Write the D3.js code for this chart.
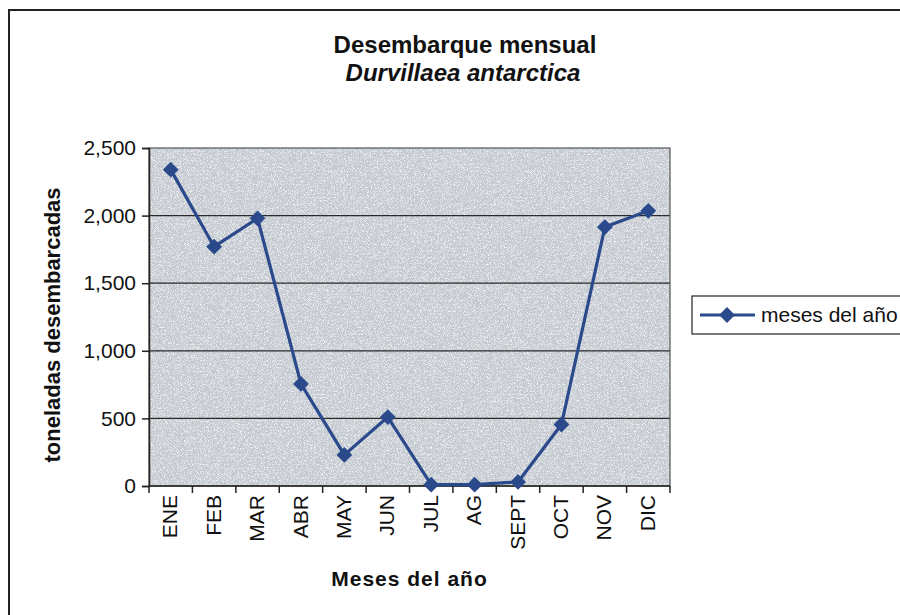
<!DOCTYPE html>
<html>
<head>
<meta charset="utf-8">
<script src="https://cdn.jsdelivr.net/npm/d3@7"></script>
<style>
  body { margin: 0; background: #fff; }
  text { font-family: "Liberation Sans", Arial, sans-serif; fill: #111; }
</style>
</head>
<body>
<div id="chart"></div>
<script>
// monthly landings
const months = ["ENE", "FEB", "MAR", "ABR", "MAY", "JUN", "JUL", "AG", "SEPT", "OCT", "NOV", "DIC"];
const toneladas = [2340, 1770, 1980, 755, 230, 510, 10, 10, 30, 455, 1915, 2035];
const yTicks = [0, 500, 1000, 1500, 2000, 2500];
const seriesName = "meses del año";

const W = 900, H = 615;
const plot = { left: 149, right: 670, top: 148, bottom: 486 };
const blue = "#2b4a8b";

const svg = d3.select("#chart")
  .append("svg")
  .attr("width", W)
  .attr("height", H);

// speckled grey of the scanned plot area
const defs = svg.append("defs");
const f = defs.append("filter").attr("id", "speckle")
  .attr("x", 0).attr("y", 0).attr("width", 1).attr("height", 1);
f.append("feTurbulence").attr("type", "fractalNoise").attr("baseFrequency", 1.3)
  .attr("numOctaves", 1).attr("seed", 7).attr("result", "noise");
// darker dots where noise is low
f.append("feColorMatrix").attr("in", "noise").attr("type", "matrix")
  .attr("values", "0 0 0 0 0.62  0 0 0 0 0.67  0 0 0 0 0.74  -3 0 0 0 1.35")
  .attr("result", "dark");
// light dots where noise is high
f.append("feColorMatrix").attr("in", "noise").attr("type", "matrix")
  .attr("values", "0 0 0 0 0.9  0 0 0 0 0.92  0 0 0 0 0.95  4 0 0 0 -1.9")
  .attr("result", "light");
f.append("feMerge").call(m => {
  m.append("feMergeNode").attr("in", "SourceGraphic");
  m.append("feMergeNode").attr("in", "dark");
  m.append("feMergeNode").attr("in", "light");
});

// outer chart frame (runs off right and bottom)
svg.append("path")
  .attr("d", `M9,${H + 5}V10H${W + 5}`)
  .attr("fill", "none")
  .attr("stroke", "#222")
  .attr("stroke-width", 2);

const x = d3.scaleBand()
  .domain(months)
  .range([plot.left, plot.right]);

const y = d3.scaleLinear()
  .domain([0, 2500])
  .range([plot.bottom, plot.top]);

// plot area
svg.append("rect")
  .attr("x", plot.left)
  .attr("y", plot.top)
  .attr("width", plot.right - plot.left)
  .attr("height", plot.bottom - plot.top)
  .attr("fill", "#c3c8ce")
  .attr("filter", "url(#speckle)");

// gridlines
svg.append("g")
  .selectAll("line")
  .data(yTicks.filter(d => d > 0 && d < 2500))
  .enter()
  .append("line")
  .attr("x1", plot.left)
  .attr("x2", plot.right)
  .attr("y1", d => y(d))
  .attr("y2", d => y(d))
  .attr("stroke", "#2a2a2a")
  .attr("stroke-width", 1.2);

svg.append("rect")
  .attr("x", plot.left)
  .attr("y", plot.top)
  .attr("width", plot.right - plot.left)
  .attr("height", plot.bottom - plot.top)
  .attr("fill", "none")
  .attr("stroke", "#555")
  .attr("stroke-width", 1.2);

// y axis
const yAxis = svg.append("g")
  .attr("transform", `translate(${plot.left},0)`)
  .call(d3.axisLeft(y).tickValues(yTicks).tickFormat(d3.format(",")).tickSize(7).tickPadding(6));
yAxis.select(".domain").attr("stroke", "#222").attr("stroke-width", 1.5);
yAxis.selectAll(".tick line").attr("stroke", "#222").attr("stroke-width", 1.5);
yAxis.selectAll("text")
  .style("font-family", '"Liberation Sans", Arial, sans-serif')
  .style("font-size", "21px")
  .attr("fill", "#111");

// x axis: ticks sit between categories
const xAxis = svg.append("g")
  .attr("transform", `translate(0,${plot.bottom})`);
xAxis.append("line")
  .attr("x1", plot.left).attr("x2", plot.right)
  .attr("stroke", "#222").attr("stroke-width", 1.5);
xAxis.selectAll(".sep")
  .data(months.concat(["end"]))
  .enter()
  .append("line")
  .attr("class", "sep")
  .attr("x1", (d, i) => i < months.length ? x(d) : plot.right)
  .attr("x2", (d, i) => i < months.length ? x(d) : plot.right)
  .attr("y1", 0).attr("y2", 7)
  .attr("stroke", "#222").attr("stroke-width", 1.5);
xAxis.selectAll(".lbl")
  .data(months)
  .enter()
  .append("text")
  .attr("class", "lbl")
  .attr("transform", d => `translate(${x(d) + x.bandwidth() / 2 - 1},9) rotate(-90)`)
  .attr("text-anchor", "end")
  .attr("dy", "0.36em")
  .style("font-size", "21px")
  .text(d => d);

// the series
const cx = d => x(d) + x.bandwidth() / 2;
const pts = months.map((m, i) => [cx(m), y(toneladas[i])]);

svg.append("path")
  .datum(pts)
  .attr("d", d3.line())
  .attr("fill", "none")
  .attr("stroke", blue)
  .attr("stroke-width", 3.2)
  .attr("stroke-linejoin", "round");

const diamond = d3.symbol(d3.symbolSquare, 125);
svg.append("g")
  .selectAll("path")
  .data(pts)
  .enter()
  .append("path")
  .attr("d", diamond)
  .attr("transform", d => `translate(${d[0]},${d[1]}) rotate(45)`)
  .attr("fill", blue);

// titles
svg.append("text")
  .attr("x", 465).attr("y", 53)
  .attr("text-anchor", "middle")
  .style("font-size", "24px").style("font-weight", "bold")
  .text("Desembarque mensual");
svg.append("text")
  .attr("x", 463).attr("y", 81)
  .attr("text-anchor", "middle")
  .style("font-size", "24px").style("font-weight", "bold").style("font-style", "italic")
  .text("Durvillaea antarctica");

svg.append("text")
  .attr("transform", `translate(60,${(plot.top + plot.bottom) / 2 + 8}) rotate(-90)`)
  .attr("text-anchor", "middle")
  .style("font-size", "22px").style("font-weight", "bold")
  .text("toneladas desembarcadas");

svg.append("text")
  .attr("x", (plot.left + plot.right) / 2)
  .attr("y", 586)
  .attr("text-anchor", "middle")
  .style("font-size", "21px").style("font-weight", "bold").style("letter-spacing", "1px")
  .text("Meses del año");

// legend
const lg = svg.append("g").attr("transform", "translate(692,296)");
lg.append("rect")
  .attr("width", 220).attr("height", 38)
  .attr("fill", "#fff").attr("stroke", "#222").attr("stroke-width", 1.2);
lg.append("line")
  .attr("x1", 8).attr("x2", 63).attr("y1", 19).attr("y2", 19)
  .attr("stroke", blue).attr("stroke-width", 3.2);
lg.append("path")
  .attr("d", diamond)
  .attr("transform", "translate(35,19) rotate(45)")
  .attr("fill", blue);
lg.append("text")
  .attr("x", 69).attr("y", 19).attr("dy", "0.35em")
  .style("font-size", "21px")
  .text(seriesName);
</script>
</body>
</html>
